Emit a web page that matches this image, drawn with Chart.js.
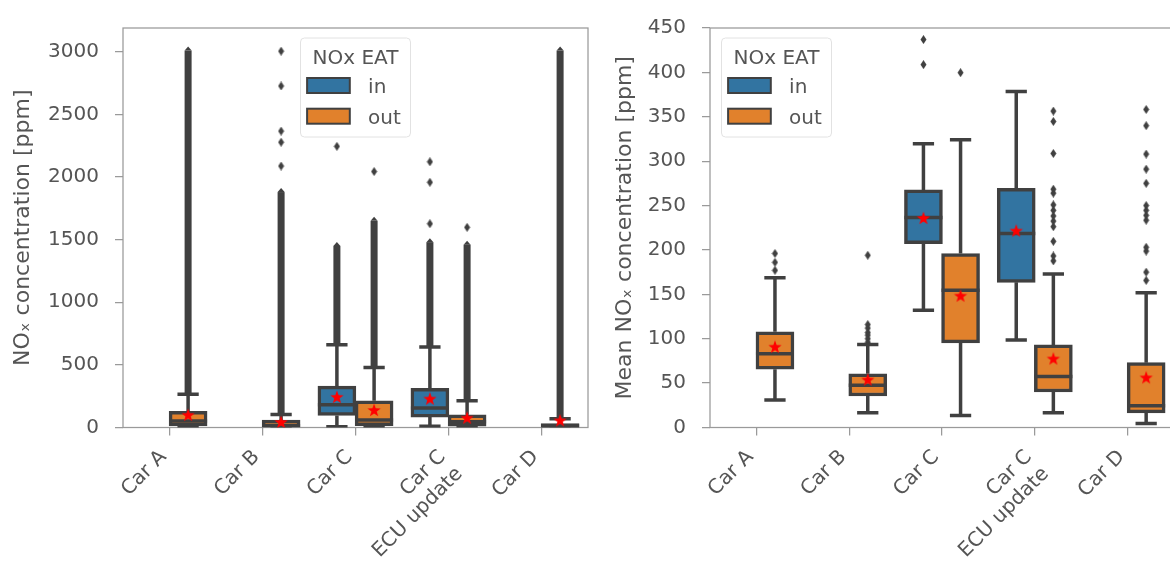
<!DOCTYPE html>
<html>
<head>
<meta charset="utf-8">
<script src="https://cdn.jsdelivr.net/npm/chart.js@4.4.0/dist/chart.umd.min.js"></script>
<style>
  html, body { margin: 0; padding: 0; background: #fff; overflow: hidden; }
  #left { position: absolute; left: 0; top: 0; width: 600px; height: 565px; }
  #right { position: absolute; left: 600px; top: 0; width: 580px; height: 565px; }
</style>
</head>
<body>
<div id="left"><canvas id="samplesChart"></canvas></div>
<div id="right"><canvas id="tripsChart"></canvas></div>
<script>
// categories and hue
const groups = [['Car A'], ['Car B'], ['Car C'], ['Car C', 'ECU update'], ['Car D']];
const legendTitle = 'NOx EAT';
const hueNames = ['in', 'out'];

// left panel: all samples [ppm]
const samplesTicks = [0, 500, 1000, 1500, 2000, 2500, 3000];
const samplesInQ1 = [null, null, 96, 83, null];
const samplesInMedian = [null, null, 182, 156, null];
const samplesInQ3 = [null, null, 330, 312, null];
const samplesInLow = [null, null, 5, 10, null];
const samplesInHigh = [null, null, 661, 643, null];
const samplesInMean = [null, null, 245, 231, null];
const samplesInDense = [null, null, 1450, 1480, null];   // top of the unbroken run of outliers
const samplesInOutliers = [[], [], [2245], [1627, 1958, 2122], []];

const samplesOutQ1 = [13, 2, 15, 10, 2];
const samplesOutMedian = [52, 15, 60, 45, 12];
const samplesOutQ3 = [130, 60, 213, 101, 31];
const samplesOutLow = [0, 0, 0, 0, 0];
const samplesOutHigh = [265, 104, 479, 213, 70];
const samplesOutMean = [101, 44, 140, 78, 57];
const samplesOutDense = [3010, 1880, 1650, 1460, 3010];
const samplesOutOutliers = [[], [2088, 2278, 2367, 2727, 3005], [2044], [1598], []];

// right panel: mean per trip [ppm]
const tripTicks = [0, 50, 100, 150, 200, 250, 300, 350, 400, 450];
const tripInQ1 = [null, null, 207, 163.5, null];
const tripInMedian = [null, null, 236.5, 218.5, null];
const tripInQ3 = [null, null, 267.6, 269.5, null];
const tripInLow = [null, null, 132, 98.6, null];
const tripInHigh = [null, null, 319.7, 378.4, null];
const tripInMean = [null, null, 236, 221.8, null];
const tripInOutliers = [[], [], [408.8, 437], [], []];

const tripOutQ1 = [65.6, 35.5, 95.3, 40, 16.5];
const tripOutMedian = [83, 47.6, 154.7, 57.5, 24.5];
const tripOutQ3 = [107.8, 60.5, 196, 93, 73];
const tripOutLow = [31, 16.5, 13.5, 16.5, 4.4];
const tripOutHigh = [168.6, 93.5, 324, 173, 151.8];
const tripOutMean = [91, 54, 148.5, 77.7, 56.4];
const tripOutOutliers = [
  [177, 186, 196],
  [96, 100, 104, 107, 112, 116, 194],
  [399.7],
  [187.7, 193.2, 209.7, 226.2, 232.5, 238.3, 244.6, 250.8, 264, 268.4, 308.7, 344.7, 356.4],
  [165.7, 175, 198.7, 203, 233.5, 239, 244.6, 250, 275, 291, 308, 340, 358.2]
];

const lineColor = '#404040';
const textColor = '#555555';
const spineColor = '#9a9a9a';
const hueColors = ['#3274a1', '#e1812c'];
const hueOffsets = [-0.2, 0.2];  // in / out side by side in each group

Chart.defaults.font.family = "'DejaVu Sans', sans-serif";
Chart.defaults.font.size = 20;
Chart.defaults.color = textColor;

function starImage() {
  const c = document.createElement('canvas');
  c.width = 16; c.height = 16;
  const g = c.getContext('2d');
  g.fillStyle = '#ff0000';
  g.beginPath();
  for (let k = 0; k < 10; k++) {
    const r = k % 2 ? 2.8 : 7;
    const a = -Math.PI / 2 + k * Math.PI / 5;
    g.lineTo(8 + r * Math.cos(a), 8.6 + r * Math.sin(a));
  }
  g.closePath();
  g.fill();
  return c;
}

function diamondImage() {
  const c = document.createElement('canvas');
  c.width = 7; c.height = 9;
  const g = c.getContext('2d');
  g.fillStyle = lineColor;
  g.beginPath();
  g.moveTo(3.5, 0); g.lineTo(6.5, 4.5); g.lineTo(3.5, 9); g.lineTo(0.5, 4.5);
  g.closePath();
  g.fill();
  return c;
}
const star = starImage();
const diamond = diamondImage();

// whiskers, caps, medians and the solid runs of outliers
const boxParts = {
  id: 'boxParts',
  afterDatasetDraw(chart, args) {
    const ds = chart.data.datasets[args.index];
    if (!ds.stats) return;
    const st = ds.stats;
    const y = chart.scales.y;
    const ctx = chart.ctx;
    const area = chart.chartArea;
    const py = v => y.getPixelForValue(v);
    ctx.save();
    ctx.beginPath();
    ctx.rect(area.left, area.top, area.right - area.left, area.bottom - area.top);
    ctx.clip();
    ctx.strokeStyle = lineColor;
    ctx.fillStyle = lineColor;
    ctx.lineWidth = 3.5;
    args.meta.data.forEach((bar, j) => {
      const i = ds.data[j].g;
      const x = bar.x, half = bar.width / 2, cap = bar.width * 0.28;
      if (st.dense && st.dense[i] != null) {
        const top = py(st.dense[i]), bot = py(st.high[i]);
        ctx.fillRect(x - 3.5, top, 7, bot - top);
        ctx.beginPath();
        ctx.moveTo(x, top - 4); ctx.lineTo(x + 3.5, top); ctx.lineTo(x - 3.5, top);
        ctx.fill();
      }
      ctx.beginPath();
      ctx.moveTo(x, py(st.q3[i])); ctx.lineTo(x, py(st.high[i]));
      ctx.moveTo(x - cap, py(st.high[i])); ctx.lineTo(x + cap, py(st.high[i]));
      ctx.moveTo(x, py(st.q1[i])); ctx.lineTo(x, py(st.low[i]));
      ctx.moveTo(x - cap, py(st.low[i])); ctx.lineTo(x + cap, py(st.low[i]));
      ctx.moveTo(x - half, py(st.median[i])); ctx.lineTo(x + half, py(st.median[i]));
      ctx.stroke();
    });
    ctx.restore();
  }
};

const spines = {
  id: 'spines',
  beforeDatasetsDraw(chart) {
    const a = chart.chartArea, ctx = chart.ctx;
    ctx.save();
    ctx.strokeStyle = spineColor;
    ctx.lineWidth = 1.25;
    ctx.strokeRect(a.left, a.top, a.right - a.left, a.bottom - a.top);
    ctx.restore();
  }
};

const hueLegend = {
  id: 'hueLegend',
  afterDraw(chart, args, opts) {
    const a = chart.chartArea, ctx = chart.ctx;
    const w = 110, h = 99;
    const left = opts.align === 'center' ? (a.left + a.right) / 2 - w / 2 : a.left + 11.5;
    const top = a.top + 10;
    ctx.save();
    ctx.beginPath();
    ctx.roundRect(left, top, w, h, 4);
    ctx.fillStyle = 'rgba(255,255,255,0.8)';
    ctx.fill();
    ctx.strokeStyle = '#e2e2e2';
    ctx.lineWidth = 1;
    ctx.stroke();
    ctx.font = "20px 'DejaVu Sans'";
    ctx.fillStyle = textColor;
    ctx.textAlign = 'center';
    ctx.fillText(legendTitle, left + w / 2, top + 26);
    chart.data.datasets.filter(d => d.stats).forEach((d, k) => {
      const pt = top + 40 + k * 30.7;
      ctx.fillStyle = d.backgroundColor;
      ctx.fillRect(left + 6.6, pt, 42.7, 15);
      ctx.strokeStyle = lineColor;
      ctx.lineWidth = 2;
      ctx.strokeRect(left + 6.6, pt, 42.7, 15);
      ctx.fillStyle = textColor;
      ctx.textAlign = 'left';
      ctx.fillText(d.label, left + 67.6, pt + 15);
    });
    ctx.restore();
  }
};

function boxDataset(k, st) {
  const data = [];
  groups.forEach((_, i) => {
    if (st.q1[i] != null) data.push({x: i + hueOffsets[k], y: [st.q1[i], st.q3[i]], g: i});
  });
  return {
    type: 'bar',
    label: hueNames[k],
    data: data,
    stats: st,
    backgroundColor: hueColors[k],
    borderColor: lineColor,
    borderWidth: 3.5,
    borderSkipped: false,
    grouped: false,
    barThickness: 38,
    order: 3
  };
}

function pointDataset(k, values, image) {
  const pts = [];
  values.forEach((v, i) => {
    [].concat(v).forEach(val => { if (val != null) pts.push({x: i + hueOffsets[k], y: val}); });
  });
  return {
    type: 'scatter',
    data: pts,
    pointStyle: image,
    pointRadius: 5,
    order: image === star ? 1 : 2
  };
}

function buildChart(id, yTitle, yMax, yTicks, axisWidth, rightPad, titlePad, legendAlign, inSt, outSt) {
  return new Chart(document.getElementById(id), {
    type: 'scatter',
    data: {
      datasets: [
        boxDataset(0, inSt),
        boxDataset(1, outSt),
        pointDataset(0, inSt.outliers, diamond),
        pointDataset(1, outSt.outliers, diamond),
        pointDataset(0, inSt.mean, star),
        pointDataset(1, outSt.mean, star)
      ]
    },
    options: {
      responsive: true,
      maintainAspectRatio: false,
      animation: false,
      events: [],
      devicePixelRatio: 1,
      layout: {padding: {top: 18.5, right: rightPad, left: 0, bottom: 0}},
      plugins: {legend: {display: false}, tooltip: {enabled: false}, hueLegend: {align: legendAlign}},
      scales: {
        x: {
          type: 'linear',
          min: -0.5,
          max: 4.5,
          offset: false,
          afterBuildTicks: s => { s.ticks = groups.map((_, i) => ({value: i})); },
          afterFit: s => { s.height = 137.5; },
          border: {display: false},
          grid: {offset: false, drawOnChartArea: false, tickLength: 8, color: spineColor, lineWidth: 1.25},
          ticks: {
            minRotation: 45, maxRotation: 45, autoSkip: false, padding: 10, labelOffset: -6,
            color: textColor,
            callback: (v, i) => groups[i]
          }
        },
        y: {
          type: 'linear',
          min: 0,
          max: yMax,
          afterBuildTicks: s => { s.ticks = yTicks.map(v => ({value: v})); },
          afterFit: s => { s.width = axisWidth; },
          border: {display: false},
          grid: {drawOnChartArea: false, tickLength: 8, color: spineColor, lineWidth: 1.25},
          ticks: {padding: 16, color: textColor, callback: v => String(v)},
          title: {
            display: true, text: yTitle, color: textColor, font: {size: 22},
            padding: {top: titlePad, bottom: 0}
          }
        }
      }
    },
    plugins: [spines, boxParts, hueLegend]
  });
}

buildChart('samplesChart', 'NOₓ concentration [ppm]', 3190, samplesTicks, 123, 12, 10, 'center', {
  q1: samplesInQ1, median: samplesInMedian, q3: samplesInQ3, low: samplesInLow, high: samplesInHigh,
  mean: samplesInMean, dense: samplesInDense, outliers: samplesInOutliers
}, {
  q1: samplesOutQ1, median: samplesOutMedian, q3: samplesOutQ3, low: samplesOutLow, high: samplesOutHigh,
  mean: samplesOutMean, dense: samplesOutDense, outliers: samplesOutOutliers
});

buildChart('tripsChart', 'Mean NOₓ concentration [ppm]', 450, tripTicks, 110, 5, 12, 'start', {
  q1: tripInQ1, median: tripInMedian, q3: tripInQ3, low: tripInLow, high: tripInHigh,
  mean: tripInMean, outliers: tripInOutliers
}, {
  q1: tripOutQ1, median: tripOutMedian, q3: tripOutQ3, low: tripOutLow, high: tripOutHigh,
  mean: tripOutMean, outliers: tripOutOutliers
});
</script>
</body>
</html>
